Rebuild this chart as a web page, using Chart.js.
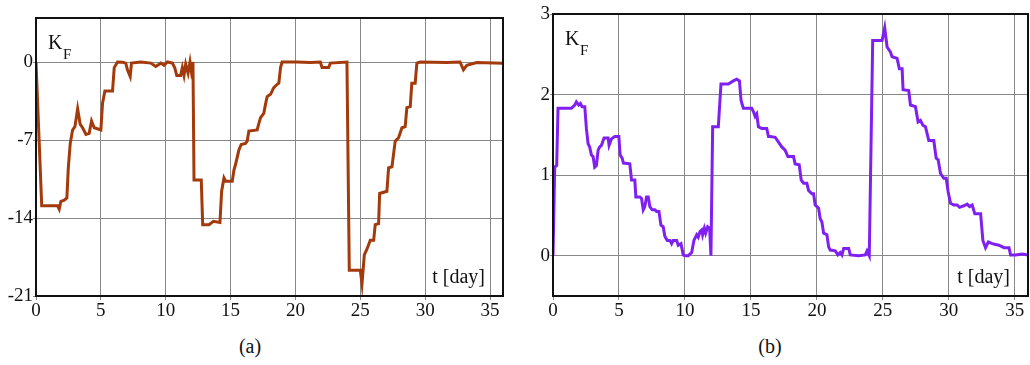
<!DOCTYPE html>
<html>
<head>
<meta charset="utf-8">
<script src="https://cdn.jsdelivr.net/npm/chart.js@4/dist/chart.umd.min.js"></script>
<style>
  body { margin: 0; background: #fff; }
  #wrap { position: relative; width: 1030px; height: 365px; }
  .box { position: absolute; top: 0; width: 515px; height: 330px; }
  .cap { position: absolute; top: 335px; font: 20px "Liberation Serif", serif; color: #111; transform: translateX(-50%); }
</style>
</head>
<body>
<div id="wrap">
  <div class="box" style="left:0"><canvas id="chartA"></canvas></div>
  <div class="box" style="left:515px"><canvas id="chartB"></canvas></div>
  <div class="cap" style="left:250px">(a)</div>
  <div class="cap" style="left:770px">(b)</div>
</div>
<script>
// panel (a): time in days, K_F values
const leftT = [0, 0.26, 0.44, 1.67, 1.79, 1.92, 2.18, 2.38, 2.49, 2.64, 2.82, 3.0, 3.21, 3.41, 3.59, 3.85, 4.1, 4.28, 4.49, 5.0,
  5.13, 5.31, 5.9, 6.03, 6.28, 6.67, 6.92, 7.05, 7.26, 7.36, 8.08, 8.85, 9.23, 9.62, 9.87, 10.13, 10.51, 10.69, 10.85, 11.15,
  11.28, 11.41, 11.54, 11.72, 11.87, 11.97, 12.1, 12.18, 12.74, 12.85, 13.33, 13.46, 13.67, 14.18, 14.31, 14.49, 14.62, 15.13,
  15.26, 15.38, 15.64, 15.82, 16.15, 16.28, 16.41, 17.05, 17.18, 17.31, 17.56, 17.69, 17.82, 18.08, 18.33, 18.59, 18.72, 18.85,
  18.97, 20.13, 21.15, 21.92, 22.05, 22.56, 22.69, 23.97, 24.15, 25.0, 25.13, 25.31, 25.51, 25.77, 26.03, 26.15, 26.41, 26.49,
  27.05, 27.18, 27.44, 27.69, 27.95, 28.21, 28.46, 28.59, 28.85, 28.97, 29.23, 29.36, 29.62, 31.67, 32.69, 32.95, 33.21, 33.97, 36];
const leftK = [0, -7.6, -12.9, -12.9, -13.2, -12.5, -12.4, -12.2, -9.5, -7.3, -6.1, -5.8, -4.2, -5.6, -5.9, -6.5, -6.4, -5.3, -5.9, -6.1,
  -3.7, -2.6, -2.6, -0.5, 0, -0.03, -0.1, -0.7, -1.3, -0.1, 0, -0.1, -0.4, -0.1, -0.3, 0, -0.1, -0.5, -1.2, -1.2,
  -0.5, -1.2, -0.2, -1.0, 0, -0.8, 0, -10.6, -10.6, -14.6, -14.6, -14.5, -14.3, -14.4, -11.6, -10.4, -10.7, -10.7,
  -9.7, -9.2, -7.9, -7.4, -7.3, -7.1, -6.2, -6.1, -5.5, -5.0, -4.6, -3.8, -3.1, -2.9, -2.3, -2.0, -1.9, -0.5,
  0, 0, -0.05, 0, -0.5, -0.5, -0.1, 0, -18.7, -18.7, -19.9, -17.3, -16.8, -16.0, -16.0, -14.6, -14.5, -11.8,
  -11.6, -9.5, -9.4, -7.1, -6.8, -5.9, -5.8, -4.1, -4.0, -1.9, -1.9, -0.1, 0, -0.05, 0, -0.7, -0.3, -0.05, -0.1];

// panel (b)
const rightT = [0, 0.13, 0.28, 0.38, 1.39, 1.65, 1.77, 1.95, 2.08, 2.2, 2.41, 2.53, 2.66, 2.78, 2.91, 3.04, 3.16, 3.29, 3.42, 3.54,
  3.67, 3.87, 4.18, 4.25, 4.43, 4.68, 4.99, 5.09, 5.24, 5.34, 5.82, 5.95, 6.2, 6.28, 6.58, 6.71, 6.84, 6.96, 7.09, 7.22,
  7.34, 7.52, 7.72, 7.85, 8.03, 8.18, 8.35, 8.48, 8.66, 8.86, 8.99, 9.11, 9.37, 9.49, 9.7, 9.87, 10.0, 10.25, 10.51, 10.68,
  10.89, 11.01, 11.14, 11.27, 11.34, 11.47, 11.57, 11.72, 11.87, 11.97, 12.1, 12.53, 12.73, 13.29, 13.67, 13.92, 14.13, 14.25,
  14.35, 14.43, 15.06, 15.19, 15.32, 15.44, 15.57, 15.82, 16.2, 16.33, 16.46, 16.84, 17.09, 17.34, 17.59, 17.8, 18.23, 18.35,
  18.66, 18.81, 18.99, 19.24, 19.37, 19.62, 19.75, 19.87, 20.13, 20.25, 20.38, 20.51, 20.76, 20.89, 21.01, 21.39, 21.59, 21.77,
  21.9, 22.03, 22.41, 22.53, 23.16, 23.67, 23.8, 23.97, 24.23, 24.94, 25.14, 25.32, 25.57, 25.7, 26.08, 26.25, 26.46, 26.53,
  26.96, 27.09, 27.47, 27.67, 27.85, 28.03, 28.23, 28.48, 28.86, 29.04, 29.19, 29.37, 29.62, 29.8, 29.95, 30.13, 30.38, 30.63,
  30.81, 31.14, 31.39, 31.57, 31.77, 31.97, 32.41, 32.58, 32.78, 32.99, 33.29, 33.54, 33.8, 34.18, 34.56, 34.68, 35.06, 35.57, 36];
const rightK = [0, 1.1, 1.12, 1.83, 1.83, 1.87, 1.91, 1.87, 1.89, 1.85, 1.85, 1.58, 1.39, 1.35, 1.25, 1.23, 1.1, 1.12, 1.31, 1.35,
  1.37, 1.46, 1.46, 1.37, 1.45, 1.48, 1.48, 1.25, 1.21, 1.15, 1.14, 0.94, 0.94, 0.73, 0.73, 0.71, 0.57, 0.61, 0.73, 0.73,
  0.61, 0.57, 0.57, 0.55, 0.55, 0.38, 0.36, 0.24, 0.19, 0.19, 0.15, 0.19, 0.19, 0.13, 0.15, 0.01, 0, 0, 0.04, 0.19,
  0.26, 0.23, 0.3, 0.32, 0.26, 0.34, 0.28, 0.36, 0.34, 0, 1.6, 1.6, 2.13, 2.13, 2.17, 2.19, 2.17, 1.93,
  1.87, 1.83, 1.83, 1.79, 1.73, 1.76, 1.6, 1.58, 1.58, 1.48, 1.48, 1.47, 1.41, 1.35, 1.31, 1.23, 1.23, 1.14,
  1.13, 0.94, 0.9, 0.9, 0.81, 0.77, 0.77, 0.63, 0.59, 0.46, 0.42, 0.28, 0.26, 0.11, 0.07, 0.06, 0.01, 0.04,
  0.01, 0.09, 0.09, 0.01, 0, 0.01, 0.06, 0, 2.67, 2.67, 2.83, 2.59, 2.53, 2.47, 2.45, 2.32, 2.32, 2.06,
  2.05, 1.87, 1.85, 1.66, 1.68, 1.62, 1.6, 1.43, 1.43, 1.21, 1.19, 1.02, 0.96, 0.96, 0.79, 0.65, 0.63, 0.63,
  0.6, 0.62, 0.64, 0.61, 0.63, 0.52, 0.52, 0.19, 0.1, 0.17, 0.15, 0.14, 0.13, 0.1, 0.1, 0.01, 0.01, 0.02, 0.01];

const xTicks = [0, 5, 10, 15, 20, 25, 30, 35];
const leftYTicks = [-21, -14, -7, 0];
const rightYTicks = [0, 1, 2, 3];

const serif = '"Liberation Serif", "Times New Roman", serif';

// frame around plot area + K_F and t [day] labels
const decor = {
  id: 'decor',
  afterDraw(chart) {
    const { ctx, chartArea: a } = chart;
    ctx.save();
    ctx.strokeStyle = '#111';
    ctx.lineWidth = 2;
    ctx.strokeRect(a.left, a.top, a.right - a.left, a.bottom - a.top);
    ctx.fillStyle = '#111';
    ctx.textBaseline = 'alphabetic';
    ctx.font = '20px ' + serif;
    ctx.fillText('K', a.left + 12, a.top + 31);
    ctx.font = '15px ' + serif;
    ctx.fillText('F', a.left + 27, a.top + 41);
    ctx.font = '20px ' + serif;
    ctx.textAlign = 'right';
    ctx.fillText('t [day]', a.right - 18, a.bottom - 13);
    ctx.restore();
  }
};

function makeChart(id, t, k, color, yMin, yMax, yTicks, yWidth, padTop, padRight) {
  const points = t.map((x, i) => ({ x: x, y: k[i] }));
  return new Chart(document.getElementById(id), {
    type: 'line',
    data: {
      datasets: [{
        data: points,
        borderColor: color,
        borderWidth: 3,
        pointRadius: 0,
        tension: 0,
        fill: false
      }]
    },
    options: {
      responsive: true,
      maintainAspectRatio: false,
      animation: false,
      layout: { padding: { top: padTop, right: padRight, left: 0, bottom: 0 } },
      plugins: { legend: { display: false }, tooltip: { enabled: false } },
      scales: {
        x: {
          type: 'linear',
          min: 0,
          max: 36,
          afterBuildTicks: s => { s.ticks = xTicks.map(v => ({ value: v })); },
          afterFit: s => { s.height = 34; },
          grid: { color: '#888', lineWidth: 1, tickLength: 4 },
          border: { display: false },
          ticks: { color: '#111', font: { family: serif, size: 19 }, padding: 0, maxRotation: 0, autoSkip: false }
        },
        y: {
          type: 'linear',
          min: yMin,
          max: yMax,
          afterBuildTicks: s => { s.ticks = yTicks.map(v => ({ value: v })); },
          afterFit: s => { s.width = yWidth; },
          grid: { color: '#888', lineWidth: 1, tickLength: 3 },
          border: { display: false },
          ticks: { color: '#111', font: { family: serif, size: 19 }, padding: 0, autoSkip: false }
        }
      }
    },
    plugins: [decor]
  });
}

makeChart('chartA', leftT, leftK, '#A33A0B', -21, 3.95, leftYTicks, 36, 18, 12);
makeChart('chartB', rightT, rightK, '#8020F0', -0.5, 3, rightYTicks, 38, 14, 2);
</script>
</body>
</html>
